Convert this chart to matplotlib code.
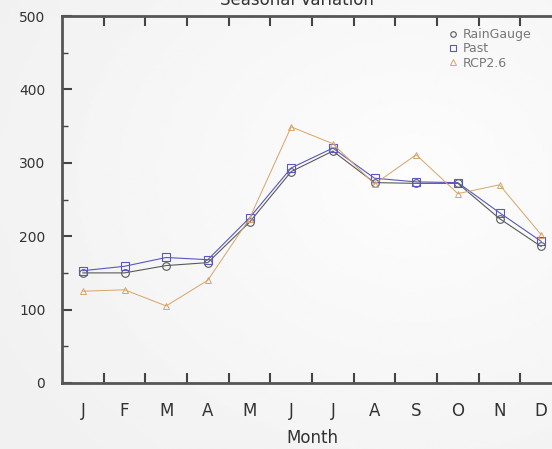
import matplotlib
matplotlib.use("Agg")
import matplotlib.pyplot as plt
import numpy as np

months = ["J", "F", "M", "A", "M", "J", "J", "A", "S", "O", "N", "D"]
rain_gauge = [150, 150, 160, 164, 219, 288, 316, 273, 272, 272, 224, 186]
past = [153, 159, 171, 168, 225, 293, 320, 279, 274, 273, 232, 193]
rcp26 = [125, 127, 105, 140, 224, 349, 326, 271, 311, 258, 270, 202]

fig = plt.figure(figsize=(5.52, 4.49), dpi=100)
fig.patch.set_facecolor("#f5f5f5")

# soft background gradient
bg = fig.add_axes([0, 0, 1, 1], zorder=-1)
yy, xx = np.mgrid[0:1:200j, 0:1:200j]
grad = 0.945 + 0.045 * np.clip(1 - np.hypot(xx - 0.75, yy - 0.4) * 1.2, 0, 1)
bg.imshow(grad, cmap="gray", vmin=0, vmax=1, aspect="auto", extent=[0, 1, 0, 1])
bg.axis("off")

ax = fig.add_axes([62 / 552, 66 / 449, 500 / 552, 367 / 449])
ax.patch.set_alpha(0)

x = np.arange(len(months)) + 0.5
ax.plot(x, rain_gauge, color="#5a5a5a", lw=0.8, marker="o", ms=5.5, mfc="none",
        mew=0.8, label="RainGauge")
ax.plot(x, past, color="#5858c0", lw=0.8, marker="s", ms=5.5, mfc="none",
        mew=0.8, label="Past")
ax.plot(x, rcp26, color="#d8a468", lw=0.7, marker="^", ms=5, mfc="none",
        mew=0.7, label="RCP2.6")

ax.set_xlim(0, 12)
ax.set_ylim(0, 500)

ax.set_xticks(x)
ax.set_xticklabels(months, fontsize=12, color="#333333")
ax.set_xticks(np.arange(1, 12), minor=True)
ax.tick_params(axis="x", which="major", length=0, pad=14)
ax.tick_params(axis="x", which="minor", direction="in", length=7, width=1.5,
               top=True, color="#444444")

ax.set_yticks(np.arange(0, 501, 100))
ax.set_yticks(np.arange(50, 500, 100), minor=True)
ax.tick_params(axis="y", which="major", direction="in", length=7, width=1.5,
               labelsize=10, labelcolor="#333333", color="#444444", pad=12)
ax.tick_params(axis="y", which="minor", direction="in", length=4, width=1,
               color="#444444")

for s in ax.spines.values():
    s.set_linewidth(2)
    s.set_color("#555555")

ax.set_xlabel("Month", fontsize=12, color="#333333", labelpad=6)

fig.text(297 / 552, 1.0, "Seasonal Variation", ha="center", va="center",
         fontsize=12, color="#333333")

leg = ax.legend(loc="upper left", bbox_to_anchor=(442 / 552, 1 - 22 / 449),
                bbox_transform=fig.transFigure, frameon=False, fontsize=9,
                handlelength=0.7, handletextpad=0.5, labelspacing=0.1,
                borderpad=0)
for h in leg.legend_handles:
    h.set_linestyle("none")
    h.set_markersize(4)
for t in leg.get_texts():
    t.set_color("#777777")

fig.savefig("out.png", dpi=100)
